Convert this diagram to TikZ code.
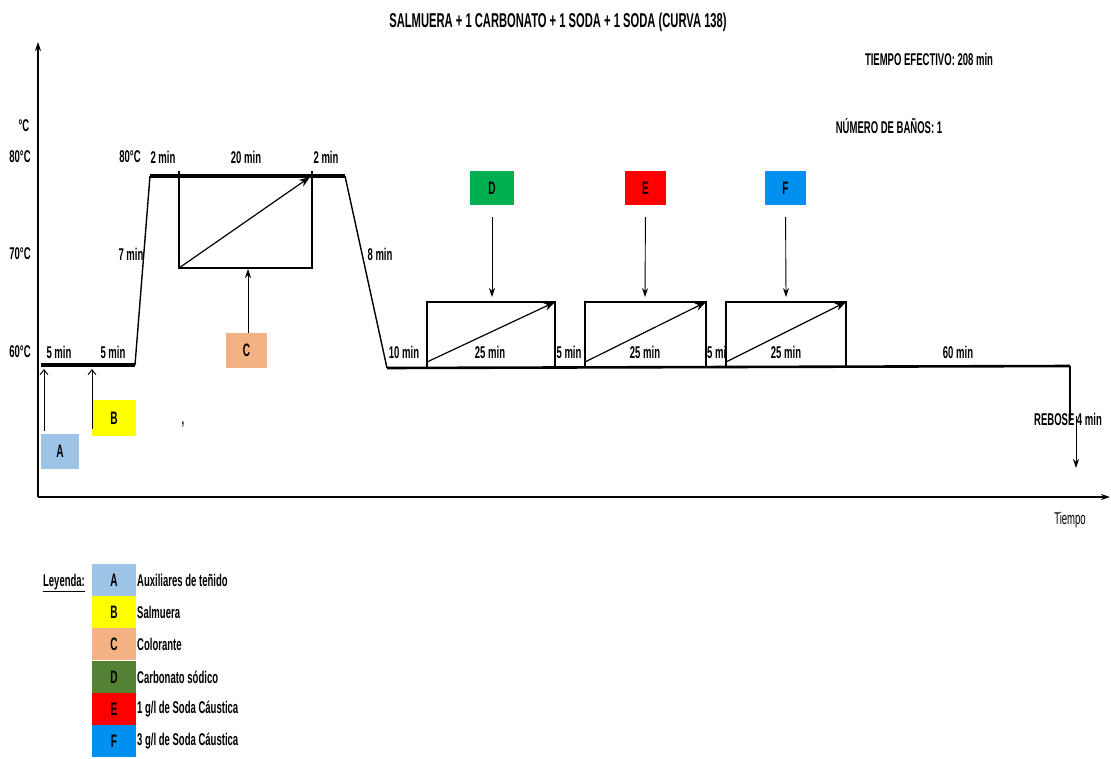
\documentclass[tikz,border=0pt]{standalone}
\usepackage{fontspec}
\setmainfont{Liberation Sans}[FakeStretch=0.56]
\usetikzlibrary{arrows.meta}
\definecolor{cA}{HTML}{9DC3E6}
\definecolor{cB}{HTML}{FFFF00}
\definecolor{cC}{HTML}{F4B183}
\definecolor{cD}{HTML}{00B050}
\definecolor{cDl}{HTML}{548235}
\definecolor{cE}{HTML}{FF0000}
\definecolor{cF}{HTML}{0090F0}
\tikzset{
  lbl/.style={font=\fontsize{17}{17}\selectfont\bfseries, inner sep=0pt},
  ttl/.style={font=\fontsize{20}{20}\selectfont\bfseries, inner sep=0pt},
  tag/.style={inner sep=0pt, font=\fontsize{18}{18}\selectfont\bfseries},
  thickline/.style={line width=3.2pt},
  ramp/.style={line width=1.4pt},
  boxline/.style={line width=1.4pt},
  axis/.style={line width=1.6pt, -{Stealth[length=9pt,width=6pt]}},
  addarrow/.style={line width=0.9pt, -{Stealth[length=9pt,width=6pt]}},
  openarrow/.style={line width=0.9pt, -{Straight Barb[length=5pt,width=8pt]}},
  diag/.style={line width=1.2pt, -{Stealth[length=11pt,width=8pt]}},
}
\begin{document}
\begin{tikzpicture}[x=1pt,y=-1pt]
\useasboundingbox (0,0) rectangle (1111,758);
% axes
\coordinate (o) at (38,497);
\coordinate (ytop) at (38,42);
\coordinate (xend) at (1110,497);
\draw[axis] (o) -- (ytop);
\draw[line width=2.8pt] (o) -- (1100,497);
\draw[axis] (1100,497) -- (xend);
% curve
\coordinate (c0) at (41,365);
\coordinate (c1) at (135,365);
\coordinate (c2) at (150,176);
\coordinate (c3) at (345,176);
\coordinate (c4) at (387,368);
\coordinate (c5) at (1070,366);
\coordinate (c6) at (1070,421);
\draw[thickline] (c0) -- (c1);
\draw[ramp] (c1) -- (c2);
\draw[line width=3.6pt] (c2) -- (c3);
\draw[ramp] (c3) -- (c4);
\draw[line width=2.6pt] (c4) -- (c5);
\draw[ramp] (c5) -- (c6);
\coordinate (r1) at (1076,416);
\coordinate (r2) at (1076,468);
\draw[addarrow] (r1) -- (r2);
% box C
\coordinate (bc1) at (179,171);
\coordinate (bc2) at (179,268);
\coordinate (bc3) at (312,268);
\coordinate (bc4) at (312,171);
\draw[boxline] (bc1) -- (bc2) -- (bc3) -- (bc4);
\coordinate (bcd) at (310,177);
\draw[diag] (bc2) -- (bcd);
% tags
\node[tag, fill=cA, minimum width=38pt, minimum height=35pt] (A) at (60,451.5) {A};
\node[tag, fill=cB, minimum width=44pt, minimum height=36pt] (B) at (114,418) {B};
\node[tag, fill=cC, minimum width=41pt, minimum height=35pt] (C) at (246.5,350.5) {C};
\node[tag, fill=cD, minimum width=44pt, minimum height=34pt] (D) at (492,188) {D};
\node[tag, fill=cE, minimum width=41pt, minimum height=34pt] (E) at (645.5,188) {E};
\node[tag, fill=cF, minimum width=41pt, minimum height=34pt] (F) at (785.5,188) {F};
% addition arrows
\coordinate (pa) at (44,369);
\coordinate (pa0) at (44,431);
\draw[openarrow] (pa0) -- (pa);
\coordinate (pb) at (92,369);
\coordinate (pb0) at (92,429);
\draw[openarrow] (pb0) -- (pb);
\coordinate (pc) at (248,269);
\draw[addarrow] (C.north -| pc) -- (pc);
% rectangles D E F
\foreach \n/\xa/\xb/\xm in {d/427/555/492, e/585/706/645, f/726/846/786}{
  \coordinate (\n bl) at (\xa,368);
  \coordinate (\n tl) at (\xa,302);
  \coordinate (\n tr) at (\xb,302);
  \coordinate (\n br) at (\xb,368);
  \coordinate (\n s) at (\xa,362);
  \coordinate (\n in) at (\xm,297);
  \draw[boxline] (\n bl) -- (\n tl) -- (\n tr) -- (\n br);
  \draw[diag] (\n s) -- (\n tr);
}
\draw[addarrow, shorten <=12pt] (D.south) -- (din);
\draw[addarrow, shorten <=12pt] (E.south) -- (ein);
\draw[addarrow, shorten <=12pt] (F.south) -- (fin);
% labels
\node[lbl] (degc) at (24,126) {°C};
\node[lbl] (t80) at (20,157) {80°C};
\node[lbl] (t70) at (20,254) {70°C};
\node[lbl] (t60) at (20,352) {60°C};
\node[lbl] (l1) at (59,352) {5 min};
\node[lbl] (l2) at (113,352) {5 min};
\node[lbl] (l3) at (130,157) {80°C};
\node[lbl] (l4) at (163,157) {2 min};
\node[lbl] (l5) at (246,157) {20 min};
\node[lbl] (l6) at (326,157) {2 min};
\node[lbl] (l7) at (131,254) {7 min};
\node[lbl] (l8) at (380,254) {8 min};
\node[lbl] (l9) at (404,352) {10 min};
\node[lbl] (l10) at (490,352) {25 min};
\node[lbl] (l11) at (569,352) {5 min};
\node[lbl] (l12) at (645,352) {25 min};
\begin{scope}
\clip (700,340) rectangle (725.3,366);
\node[lbl, anchor=west] (l13) at (707,352) {5 min};
\end{scope}
\node[lbl] (l14) at (786,352) {25 min};
\node[lbl] (l15) at (958,352) {60 min};
\node[lbl] (reb) at (1068,419) {REBOSE 4 min};
\node[font=\fontsize{17}{17}\selectfont, inner sep=0pt] (tiempo) at (1070,520) {Tiempo};
\node[lbl] (comma) at (183,425) {,};
\node[ttl] (title) at (558,22) {SALMUERA + 1 CARBONATO + 1 SODA + 1 SODA (CURVA 138)};
\node[lbl] (tef) at (929,59) {TIEMPO EFECTIVO: 208 min};
\node[lbl] (nb) at (889,126) {NÚMERO DE BAÑOS: 1};
% legend
\node[lbl] (ley) at (64,583) {\underline{Leyenda:}};
\foreach \n/\c/\y/\t in {A/cA/580/{Auxiliares de teñido}, B/cB/612/{Salmuera}, C/cC/644/{Colorante}, D/cDl/677/{Carbonato sódico}, E/cE/709/{1 g/l de Soda Cáustica}, F/cF/741/{3 g/l de Soda Cáustica}}{
  \node[tag, fill=\c, minimum width=44pt, minimum height=32.5pt] (leg\n) at (114,\y) {\n};
  \node[lbl, anchor=west] (legt\n) at (137,\y) {\t};
}
\end{tikzpicture}
\end{document}
